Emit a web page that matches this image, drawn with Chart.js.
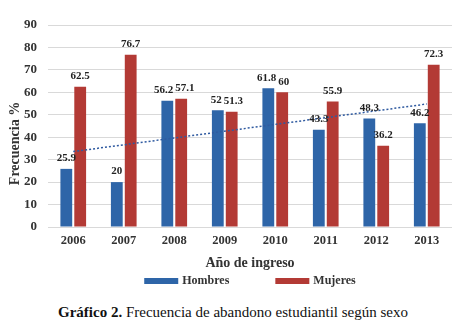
<!DOCTYPE html>
<html>
<head>
<meta charset="utf-8">
<script src="https://cdn.jsdelivr.net/npm/chart.js@4"></script>
<style>
    body { margin: 0; background: #fff; }
    #wrap { position: relative; width: 466px; height: 292px; }
    #caption {
        font-family: 'Liberation Serif', serif;
        font-size: 15px;
        color: #111;
        text-align: center;
        width: 466px;
        margin-top: 12px;
    }
</style>
</head>
<body>
<div id="wrap"><canvas id="chart"></canvas></div>
<div id="caption"><b>Gráfico 2.</b> Frecuencia de abandono estudiantil según sexo</div>
<script>
const years = ['2006', '2007', '2008', '2009', '2010', '2011', '2012', '2013'];
const hombres = [25.9, 20, 56.2, 52, 61.8, 43.3, 48.3, 46.2];
const mujeres = [62.5, 76.7, 57.1, 51.3, 60, 55.9, 36.2, 72.3];
// tendencia lineal (Hombres), solo extremos
const tendencia = [33.6, null, null, null, null, null, null, 54.8];
const yTicks = [0, 10, 20, 30, 40, 50, 60, 70, 80, 90];

const serif = 'Liberation Serif';

// etiquetas de valor encima de cada barra; si dos chocan se separan un poco
const valueLabels = {
    id: 'valueLabels',
    afterDatasetsDraw(chart) {
        const ctx = chart.ctx;
        ctx.save();
        ctx.font = 'bold 11px ' + serif;
        ctx.fillStyle = '#222';
        ctx.textAlign = 'center';
        ctx.textBaseline = 'bottom';
        const metaH = chart.getDatasetMeta(1).data;
        const metaM = chart.getDatasetMeta(2).data;
        years.forEach((y, j) => {
            const tH = String(hombres[j]), tM = String(mujeres[j]);
            let xH = metaH[j].x, xM = metaM[j].x;
            const yH = metaH[j].y - 5, yM = metaM[j].y - 5;
            if (Math.abs(yH - yM) < 12) {
                const over = (xH + ctx.measureText(tH).width / 2 + 2) - (xM - ctx.measureText(tM).width / 2);
                if (over > 0) { xH -= over / 2; xM += over / 2; }
            }
            ctx.fillText(tH, xH, yH);
            ctx.fillText(tM, xM, yM);
        });
        ctx.restore();
    }
};

// leyenda con cajas anchas y separacion amplia, como en el original
const wideLegend = {
    id: 'wideLegend',
    afterDraw(chart) {
        const ctx = chart.ctx;
        const bars = chart.data.datasets.filter(ds => ds.type !== 'line');
        const boxW = 34, boxH = 6, gap = 4, spacing = 46;
        ctx.save();
        ctx.font = 'bold 12px ' + serif;
        ctx.textBaseline = 'middle';
        let total = 0;
        bars.forEach((ds, i) => {
            total += boxW + gap + ctx.measureText(ds.label).width + (i < bars.length - 1 ? spacing : 0);
        });
        let x = (chart.chartArea.left + chart.chartArea.right) / 2 - total / 2;
        const y = chart.height - 11;
        bars.forEach(ds => {
            ctx.fillStyle = ds.backgroundColor;
            ctx.fillRect(x, y - boxH / 2, boxW, boxH);
            x += boxW + gap;
            ctx.fillStyle = '#333';
            ctx.fillText(ds.label, x, y);
            x += ctx.measureText(ds.label).width + spacing;
        });
        ctx.restore();
    }
};

new Chart(document.getElementById('chart'), {
    type: 'bar',
    data: {
        labels: years,
        datasets: [
            {
                type: 'line',
                label: 'Tendencia',
                data: tendencia,
                spanGaps: true,
                borderColor: '#2f5aa0',
                borderWidth: 1.5,
                borderDash: [2, 2],
                pointRadius: 0,
                fill: false,
                order: 0
            },
            {
                label: 'Hombres',
                data: hombres,
                backgroundColor: '#2e65a8',
                categoryPercentage: 0.55,
                barPercentage: 0.85,
                order: 1
            },
            {
                label: 'Mujeres',
                data: mujeres,
                backgroundColor: '#b33a35',
                categoryPercentage: 0.55,
                barPercentage: 0.85,
                order: 1
            }
        ]
    },
    options: {
        responsive: true,
        maintainAspectRatio: false,
        animation: false,
        layout: { padding: { top: 25, right: 14, left: 6, bottom: 20 } },
        scales: {
            x: {
                afterFit(scale) { scale.height = 45; },
                grid: { display: false, drawTicks: false },
                border: { display: false },
                ticks: { font: { family: serif, weight: 'bold', size: 12.5 }, color: '#333', padding: 6 },
                title: {
                    display: true,
                    text: 'Año de ingreso',
                    font: { family: serif, weight: 'bold', size: 14 },
                    color: '#333',
                    padding: { top: 0, bottom: 0 }
                }
            },
            y: {
                min: 0,
                max: 90,
                afterFit(scale) { scale.width = 42; },
                afterBuildTicks(scale) {
                    scale.ticks = yTicks.map(v => ({ value: v }));
                },
                grid: { color: '#d9d9d9', drawTicks: false },
                border: { display: false },
                ticks: { font: { family: serif, weight: 'bold', size: 13 }, color: '#333', padding: 11 },
                title: {
                    display: true,
                    text: 'Frecuencia %' + '\u2002'.repeat(5),
                    font: { family: serif, weight: 'bold', size: 14 },
                    color: '#333',
                    padding: { top: 1, bottom: 0 }
                }
            }
        },
        plugins: {
            legend: { display: false },
            tooltip: { enabled: false }
        }
    },
    plugins: [valueLabels, wideLegend]
});
</script>
</body>
</html>
